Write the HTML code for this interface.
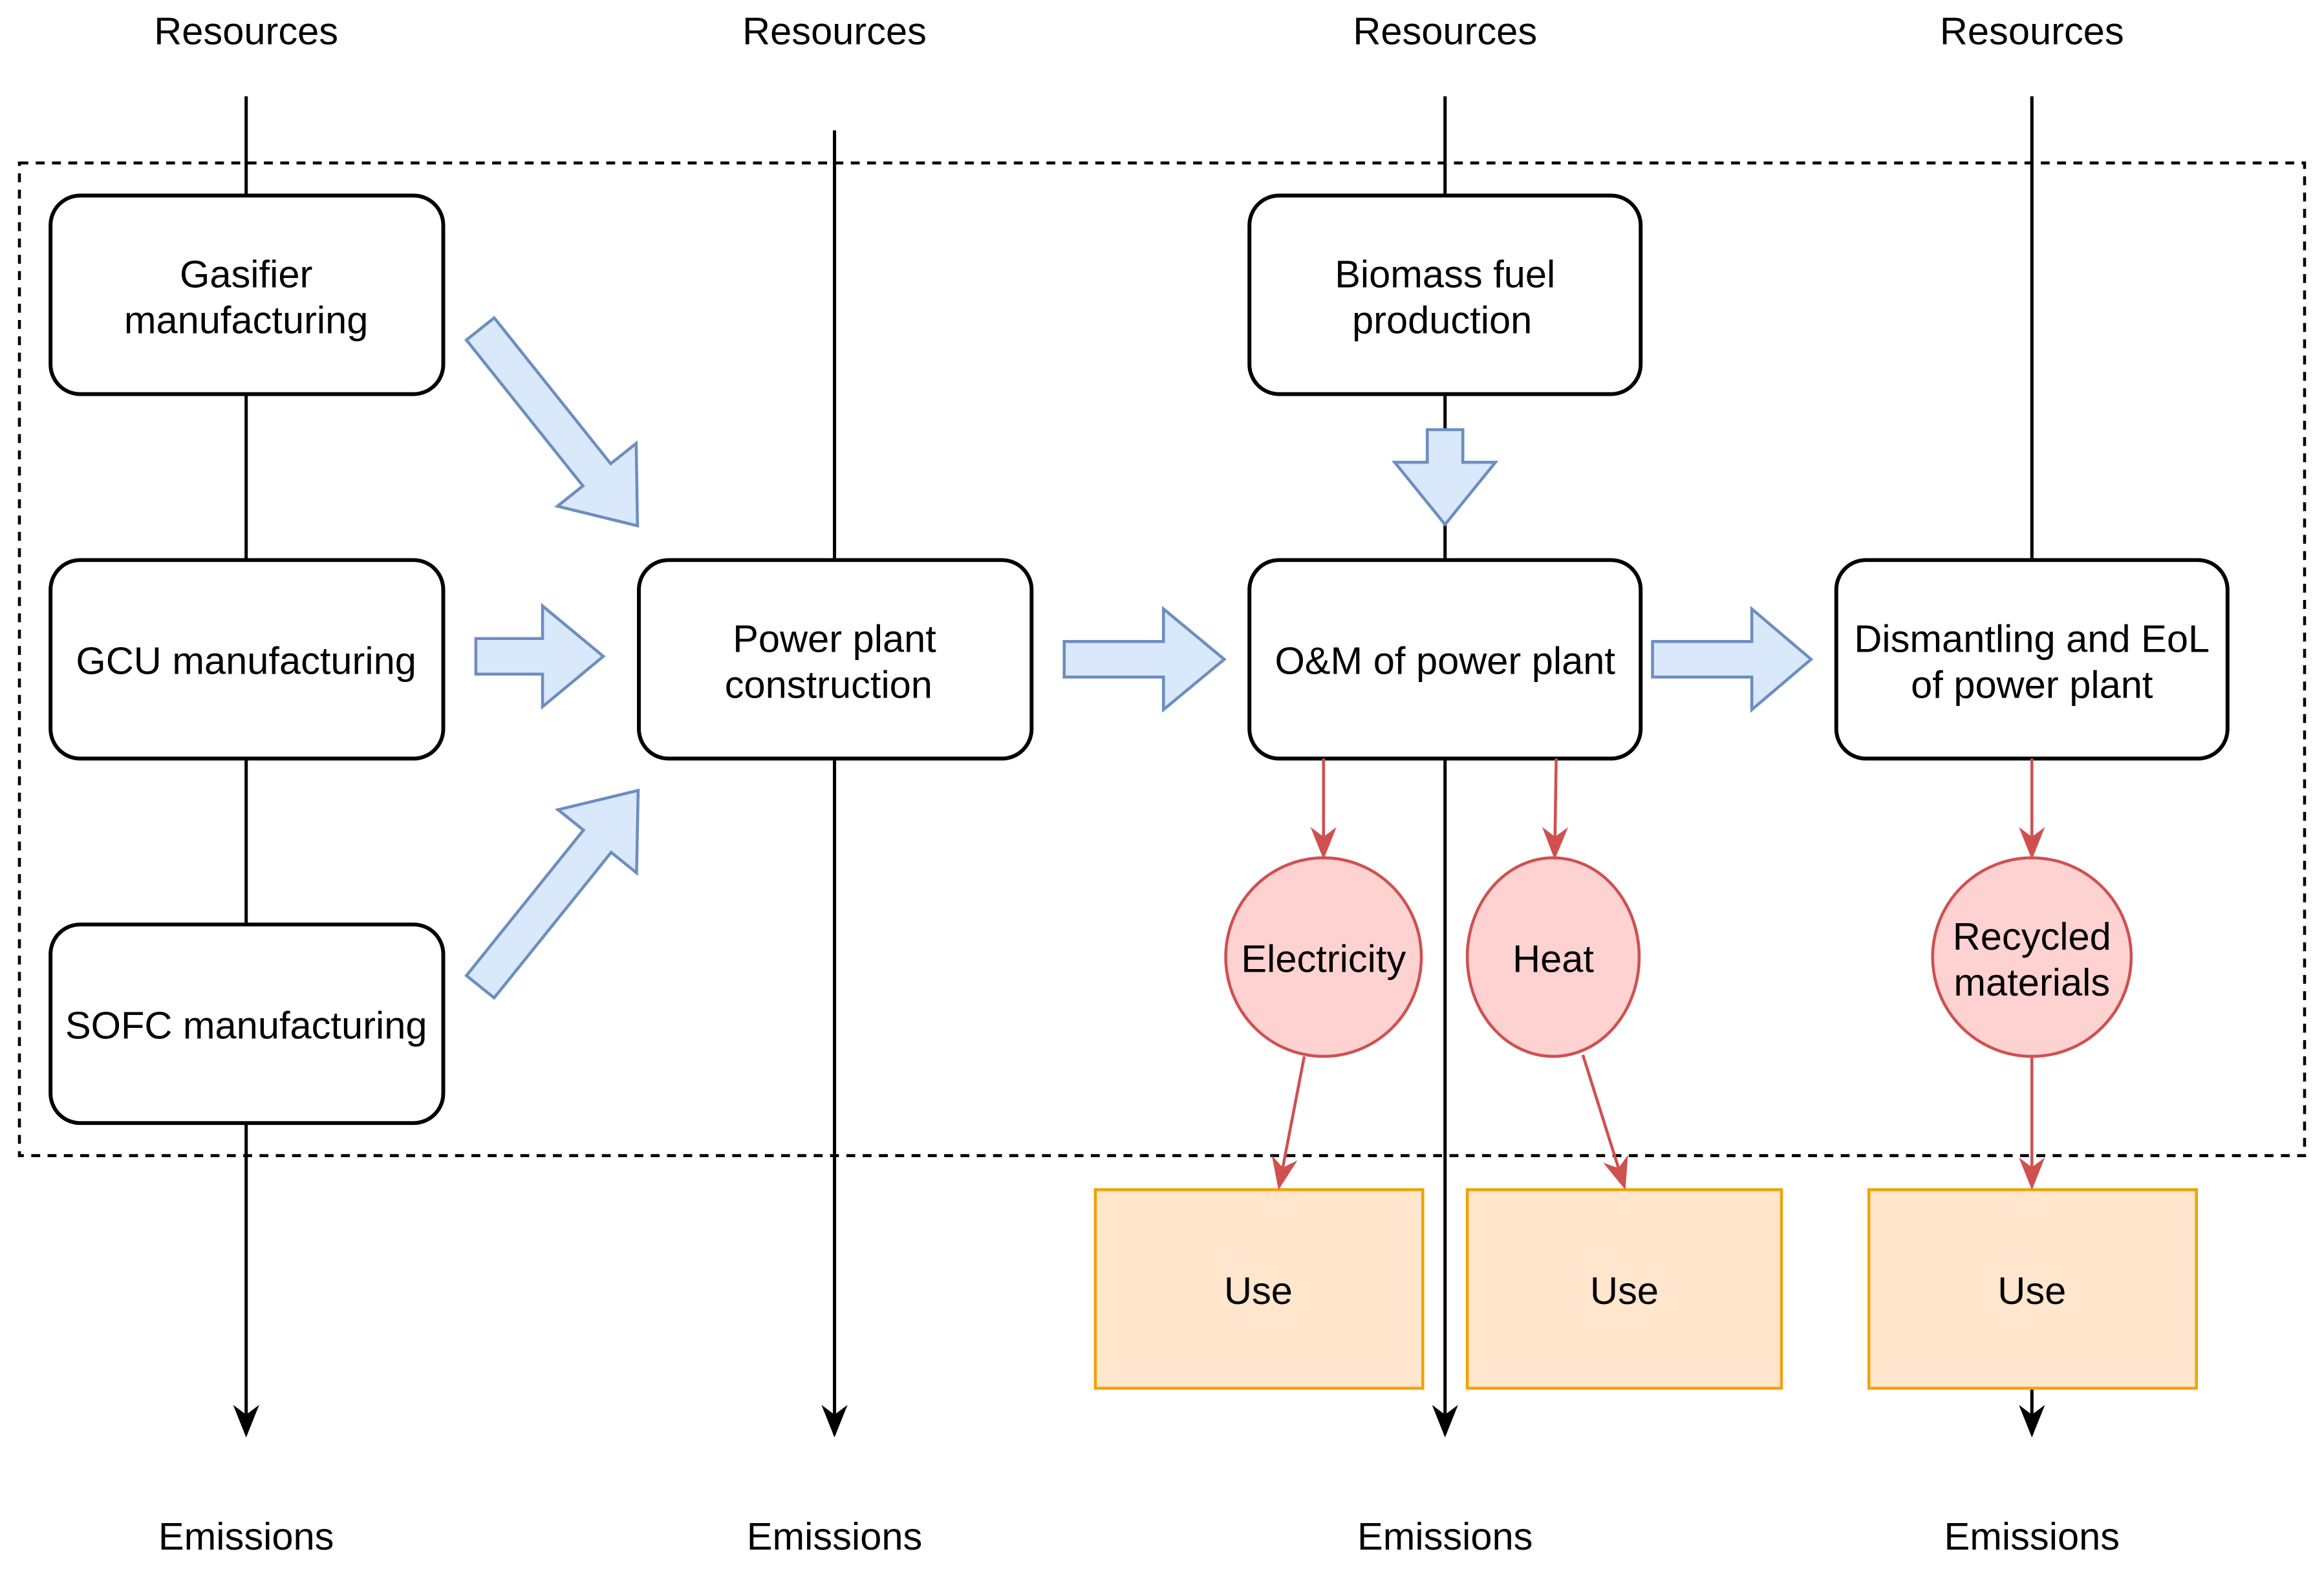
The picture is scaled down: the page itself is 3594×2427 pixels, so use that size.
<!DOCTYPE html>
<html><head><style>html,body{margin:0;padding:0;background:#fff}svg{display:block}</style></head>
<body>
<svg width="3594" height="2427" viewBox="0 0 1568 1059" xmlns="http://www.w3.org/2000/svg" font-family="Liberation Sans, Arial, sans-serif" font-size="26" text-anchor="middle">
<defs>
<marker id="rd" viewBox="0 0 10 10" refX="9" refY="5" markerWidth="22" markerHeight="22" orient="auto" markerUnits="userSpaceOnUse"><path d="M0,1 L10,5 L0,9 L3,5 z" fill="#d05050"/></marker>
<marker id="bk2" viewBox="0 0 10 10" refX="9" refY="5" markerWidth="22" markerHeight="22" orient="auto" markerUnits="userSpaceOnUse"><path d="M0,1 L10,5 L0,9 L3,5 z" fill="#000"/></marker>
</defs>
<rect x="13" y="110" width="1542" height="670" fill="none" stroke="#000" stroke-width="2" stroke-dasharray="6,5"/>
<g stroke="#000" stroke-width="2.2" fill="none">
<line x1="166" y1="65" x2="166" y2="968" marker-end="url(#bk2)"/>
<line x1="563" y1="88" x2="563" y2="968" marker-end="url(#bk2)"/>
<line x1="975" y1="65" x2="975" y2="968" marker-end="url(#bk2)"/>
<line x1="1371" y1="65" x2="1371" y2="378"/>
<line x1="1371" y1="937" x2="1371" y2="968" marker-end="url(#bk2)"/>
</g>
<g fill="#fff" stroke="#000" stroke-width="2.6">
<rect x="34" y="132" width="265" height="134" rx="20"/>
<rect x="34" y="378" width="265" height="134" rx="20"/>
<rect x="34" y="624" width="265" height="134" rx="20"/>
<rect x="431" y="378" width="265" height="134" rx="20"/>
<rect x="843" y="132" width="264" height="134" rx="20"/>
<rect x="843" y="378" width="264" height="134" rx="20"/>
<rect x="1239" y="378" width="264" height="134" rx="20"/>
</g>
<g fill="#dae8fc" stroke="#6c8ebf" stroke-width="2">
<path transform="translate(321,443)" d="M0,-12 L45,-12 L45,-34 L86,0 L45,34 L45,12 L0,12 z"/>
<path transform="translate(718,445)" d="M0,-12 L67,-12 L67,-34 L108,0 L67,34 L67,12 L0,12 z"/>
<path transform="translate(1115,445)" d="M0,-12 L67,-12 L67,-34 L107,0 L67,34 L67,12 L0,12 z"/>
<path transform="translate(975,290) rotate(90)" d="M0,-12 L22,-12 L22,-34 L64,0 L22,34 L22,12 L0,12 z"/>
<path transform="translate(324,222) rotate(51.4)" d="M0,-12 L126,-12 L126,-34 L170,0 L126,34 L126,12 L0,12 z"/>
<path transform="translate(324,666) rotate(-51.2)" d="M0,-12 L126,-12 L126,-34 L170,0 L126,34 L126,12 L0,12 z"/>
</g>
<g fill="#fdd2d0" stroke="#d05050" stroke-width="2">
<ellipse cx="893" cy="646" rx="66" ry="67"/>
<ellipse cx="1048" cy="646" rx="58" ry="67"/>
<ellipse cx="1371" cy="646" rx="67" ry="67"/>
</g>
<g fill="#ffe6cc" stroke="#f0a30a" stroke-width="2">
<rect x="739" y="803" width="221" height="134"/>
<rect x="990" y="803" width="212" height="134"/>
<rect x="1261" y="803" width="221" height="134"/>
</g>
<g stroke="#d05050" stroke-width="2">
<line x1="893" y1="512" x2="893" y2="578" marker-end="url(#rd)"/>
<line x1="1050" y1="512" x2="1049" y2="578" marker-end="url(#rd)"/>
<line x1="880" y1="713" x2="863" y2="801" marker-end="url(#rd)"/>
<line x1="1068" y1="712" x2="1096" y2="801" marker-end="url(#rd)"/>
<line x1="1371" y1="512" x2="1371" y2="578" marker-end="url(#rd)"/>
<line x1="1371" y1="714" x2="1371" y2="801" marker-end="url(#rd)"/>
</g>
<g fill="#000">
<text x="166" y="30">Resources</text>
<text x="563" y="30">Resources</text>
<text x="975" y="30">Resources</text>
<text x="1371" y="30">Resources</text>
<text x="166" y="1046">Emissions</text>
<text x="563" y="1046">Emissions</text>
<text x="975" y="1046">Emissions</text>
<text x="1371" y="1046">Emissions</text>
<text x="166" y="194">Gasifier</text>
<text x="166" y="225">manufacturing</text>
<text x="166" y="455">GCU manufacturing</text>
<text x="166" y="701">SOFC manufacturing</text>
<text x="563" y="440">Power plant</text>
<text x="559" y="471">construction</text>
<text x="975" y="194">Biomass fuel</text>
<text x="973" y="225">production</text>
<text x="975" y="455">O&amp;M of power plant</text>
<text x="1371" y="440">Dismantling and EoL</text>
<text x="1371" y="471">of power plant</text>
<text x="893" y="656">Electricity</text>
<text x="1048" y="656">Heat</text>
<text x="1371" y="641">Recycled</text>
<text x="1371" y="672">materials</text>
<text x="849" y="880">Use</text>
<text x="1096" y="880">Use</text>
<text x="1371" y="880">Use</text>
</g>
</svg>
</body></html>
